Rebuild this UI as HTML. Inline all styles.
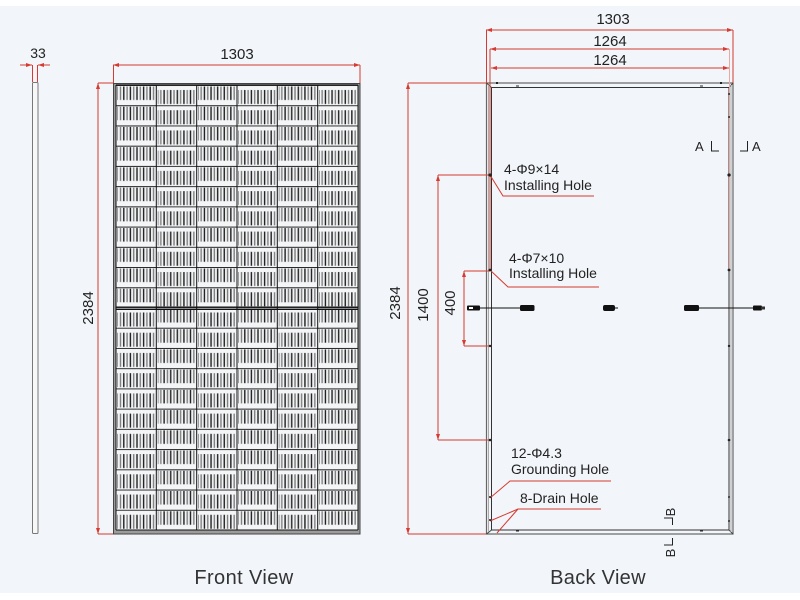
<!DOCTYPE html>
<html><head><meta charset="utf-8"><style>
html,body{margin:0;padding:0;background:#fff;}
svg{display:block;}
text{font-family:"Liberation Sans",sans-serif;fill:#222;}
</style></head><body>
<svg width="800" height="600" viewBox="0 0 800 600" xmlns="http://www.w3.org/2000/svg">
<defs>
<marker id="ar" viewBox="0 0 6 4" refX="6" refY="2" markerWidth="6" markerHeight="4" markerUnits="userSpaceOnUse" orient="auto-start-reverse">
<path d="M0,0 L6,2 L0,4 z" fill="#d63a30"/></marker>
<pattern id="st" x="0" y="0" width="6.6" height="4" patternUnits="userSpaceOnUse">
<rect x="0.5" width="1.4" height="4" fill="#1a1a1a"/><rect x="3.8" width="1.4" height="4" fill="#7c7c7c"/></pattern>
<pattern id="cA" x="116" y="85" width="40.333" height="20.227" patternUnits="userSpaceOnUse">
<rect width="40.333" height="20.227" fill="#f3f5f7"/>
<rect x="1.5" y="1.5" width="37.5" height="13.5" fill="url(#st)"/>
<rect width="40.333" height="1" fill="#222"/></pattern>
<pattern id="cB" x="116" y="85" width="40.333" height="20.227" patternUnits="userSpaceOnUse">
<rect width="40.333" height="20.227" fill="#f3f5f7"/>
<rect x="1.5" y="5" width="37.5" height="14" fill="url(#st)"/>
<rect width="40.333" height="1" fill="#333"/></pattern>
</defs>

<rect x="0" y="0" width="800" height="600" fill="#fff"/>
<rect x="0" y="6" width="800" height="587" fill="#f2f5f9"/>

<!-- side view -->
<rect x="32.5" y="82.5" width="5.5" height="451" rx="1" fill="#f7f7f7" stroke="#777" stroke-width="1"/>
<g stroke="#d63a30" stroke-width="1" fill="none">
<line x1="20" y1="65" x2="32" y2="65" marker-end="url(#ar)"/>
<line x1="50" y1="65" x2="38" y2="65" marker-end="url(#ar)"/>
<line x1="32.5" y1="65" x2="32.5" y2="82"/>
<line x1="37.5" y1="65" x2="37.5" y2="82"/>
</g>
<text x="38" y="58" font-size="14" text-anchor="middle">33</text>

<!-- front view -->
<rect x="113.5" y="83.5" width="246.5" height="450.5" fill="#9c9c9c" stroke="#444" stroke-width="1"/>
<g>
<rect x="116" y="85" width="40.333" height="222.5" fill="url(#cA)"/>
<rect x="156.333" y="85" width="40.333" height="222.5" fill="url(#cB)"/>
<rect x="196.667" y="85" width="40.333" height="222.5" fill="url(#cA)"/>
<rect x="237" y="85" width="40.333" height="222.5" fill="url(#cB)"/>
<rect x="277.333" y="85" width="40.333" height="222.5" fill="url(#cA)"/>
<rect x="317.667" y="85" width="40.333" height="222.5" fill="url(#cB)"/>
<rect x="116" y="307.5" width="40.333" height="222.5" fill="url(#cB)"/>
<rect x="156.333" y="307.5" width="40.333" height="222.5" fill="url(#cA)"/>
<rect x="196.667" y="307.5" width="40.333" height="222.5" fill="url(#cB)"/>
<rect x="237" y="307.5" width="40.333" height="222.5" fill="url(#cA)"/>
<rect x="277.333" y="307.5" width="40.333" height="222.5" fill="url(#cB)"/>
<rect x="317.667" y="307.5" width="40.333" height="222.5" fill="url(#cA)"/>
</g>
<g stroke="#111" stroke-width="1">
<line x1="116" y1="85" x2="116" y2="530"/>
<line x1="156.3" y1="85" x2="156.3" y2="530"/>
<line x1="196.7" y1="85" x2="196.7" y2="530"/>
<line x1="237" y1="85" x2="237" y2="530"/>
<line x1="277.3" y1="85" x2="277.3" y2="530"/>
<line x1="317.7" y1="85" x2="317.7" y2="530"/>
<line x1="358" y1="85" x2="358" y2="530"/>
<line x1="116" y1="307" x2="358" y2="307"/>
<line x1="116" y1="309.5" x2="358" y2="309.5"/>
<line x1="116" y1="530" x2="358" y2="530"/>
<line x1="116" y1="85" x2="358" y2="85"/>
</g>
<g stroke="#d63a30" stroke-width="1" fill="none">
<line x1="113" y1="65" x2="360" y2="65" marker-start="url(#ar)" marker-end="url(#ar)"/>
<line x1="113.5" y1="65" x2="113.5" y2="83"/>
<line x1="360" y1="65" x2="360" y2="83"/>
<line x1="98" y1="83" x2="98" y2="534" marker-start="url(#ar)" marker-end="url(#ar)"/>
<line x1="98" y1="83" x2="113" y2="83"/>
<line x1="98" y1="534" x2="113" y2="534"/>
</g>
<text x="237" y="59" font-size="15" text-anchor="middle">1303</text>
<text x="0" y="0" font-size="15" text-anchor="middle" transform="translate(93,308) rotate(-90)">2384</text>
<text x="244" y="584" font-size="20" text-anchor="middle" style="fill:#333" letter-spacing="0.4">Front View</text>

<!-- back view -->
<rect x="486.5" y="83" width="246.5" height="451" fill="none" stroke="#666" stroke-width="1.2"/>
<rect x="491.5" y="87.5" width="237.5" height="442.5" fill="none" stroke="#333" stroke-width="1"/>
<g stroke="#444" stroke-width="1">
<line x1="486.5" y1="83" x2="491.5" y2="87.5"/>
<line x1="733" y1="83" x2="729" y2="87.5"/>
<line x1="486.5" y1="534" x2="491.5" y2="530"/>
<line x1="733" y1="534" x2="729" y2="530"/>
<line x1="488.5" y1="85" x2="488.5" y2="532" stroke="#aaa"/>
<line x1="731" y1="85" x2="731" y2="532" stroke="#aaa"/>
</g>
<g stroke="#d63a30" stroke-width="1" fill="none">
<line x1="486" y1="30" x2="733" y2="30" marker-start="url(#ar)" marker-end="url(#ar)"/>
<line x1="486.5" y1="30" x2="486.5" y2="83"/>
<line x1="733" y1="30" x2="733" y2="83"/>
<line x1="490" y1="49" x2="729" y2="49" marker-start="url(#ar)" marker-end="url(#ar)"/>
<line x1="490" y1="49" x2="490" y2="270"/>
<line x1="729.5" y1="49" x2="729.5" y2="270" stroke="#e8a8a4"/>
<line x1="491" y1="68" x2="729" y2="68" marker-start="url(#ar)" marker-end="url(#ar)"/>
<line x1="408" y1="83" x2="408" y2="534" marker-start="url(#ar)" marker-end="url(#ar)"/>
<line x1="408" y1="83" x2="486" y2="83"/>
<line x1="408" y1="534" x2="486" y2="534"/>
<line x1="438" y1="175" x2="438" y2="440" marker-start="url(#ar)" marker-end="url(#ar)"/>
<line x1="438" y1="175" x2="490" y2="175"/>
<line x1="438" y1="440" x2="490" y2="440"/>
<line x1="464" y1="271" x2="464" y2="346" marker-start="url(#ar)" marker-end="url(#ar)"/>
<line x1="464" y1="271" x2="490" y2="271"/>
<line x1="464" y1="346" x2="490" y2="346"/>
<polyline points="490,175 503,196 594,196"/>
<polyline points="490,270 508,287 599,287"/>
<polyline points="490,498 510,481 611,481"/>
<polyline points="601,509 518,509 490,521"/>
<line x1="518" y1="509" x2="497" y2="533"/>
</g>
<g fill="#222">
<circle cx="490" cy="175" r="1.6"/><circle cx="729" cy="175" r="1.6"/>
<circle cx="490" cy="270" r="1.4"/><circle cx="729" cy="270" r="1.4"/>
<circle cx="490" cy="346" r="1.2"/><circle cx="729" cy="346" r="1.2"/>
<circle cx="490" cy="440" r="1.3"/><circle cx="729" cy="440" r="1.3"/>
<circle cx="729" cy="117" r="1"/><circle cx="729" cy="94" r="1"/>
<circle cx="490" cy="497" r="1"/><circle cx="729" cy="497" r="1"/>
<circle cx="490" cy="520" r="1"/><circle cx="729" cy="521" r="1"/>
<rect x="496" y="82" width="2" height="2"/><rect x="720" y="82" width="2" height="2"/>
<rect x="516" y="85.5" width="3" height="1"/><rect x="700" y="85.5" width="3" height="1"/>
<rect x="516" y="530.5" width="3" height="1"/><rect x="700" y="530.5" width="3" height="1"/>
</g>
<!-- cables -->
<g>
<line x1="478" y1="308" x2="522" y2="308" stroke="#111" stroke-width="1"/>
<line x1="697" y1="308" x2="755" y2="308" stroke="#111" stroke-width="1"/>
<rect x="467" y="305.5" width="13" height="5" rx="1" fill="#111"/>
<rect x="469" y="307" width="4" height="2" fill="#fff"/>
<rect x="520" y="305" width="14.5" height="6" rx="1.5" fill="#111"/>
<rect x="603" y="305" width="12" height="6" rx="2" fill="#111"/>
<line x1="614" y1="308" x2="618" y2="308" stroke="#111" stroke-width="1"/>
<rect x="684" y="305" width="15" height="6" rx="1.5" fill="#111"/>
<rect x="753" y="305.5" width="9" height="5" rx="1" fill="#111"/>
<rect x="761" y="306.5" width="4" height="3" fill="#333"/>
</g>
<text x="613" y="24" font-size="15" text-anchor="middle">1303</text>
<text x="610" y="46" font-size="15" text-anchor="middle">1264</text>
<text x="610" y="65" font-size="15" text-anchor="middle">1264</text>
<text x="0" y="0" font-size="15" text-anchor="middle" transform="translate(400,303) rotate(-90)">2384</text>
<text x="0" y="0" font-size="15" text-anchor="middle" transform="translate(428,305) rotate(-90)">1400</text>
<text x="0" y="0" font-size="15" text-anchor="middle" transform="translate(455,303) rotate(-90)">400</text>

<text x="504" y="174" font-size="14">4-Φ9×14</text>
<text x="504" y="190" font-size="14">Installing Hole</text>
<text x="509" y="263" font-size="14">4-Φ7×10</text>
<text x="509" y="278" font-size="14">Installing Hole</text>
<text x="511" y="458" font-size="14">12-Φ4.3</text>
<text x="511" y="474" font-size="14">Grounding Hole</text>
<text x="520" y="503" font-size="14">8-Drain Hole</text>

<text x="695" y="151" font-size="13">A</text>
<polyline points="711.5,141 711.5,151 719,151" fill="none" stroke="#222" stroke-width="1"/>
<polyline points="740,151 747.5,151 747.5,141" fill="none" stroke="#222" stroke-width="1"/>
<text x="752" y="151" font-size="13">A</text>

<text x="0" y="0" font-size="13" text-anchor="middle" transform="translate(675,512) rotate(-90)">B</text>
<polyline points="664,518 672.5,518 672.5,525" fill="none" stroke="#222" stroke-width="1"/>
<polyline points="672.5,538 672.5,545 664,545" fill="none" stroke="#222" stroke-width="1"/>
<text x="0" y="0" font-size="13" text-anchor="middle" transform="translate(675,553) rotate(-90)">B</text>

<text x="598" y="584" font-size="20" text-anchor="middle" style="fill:#333" letter-spacing="0.3">Back View</text>
</svg>
</body></html>
